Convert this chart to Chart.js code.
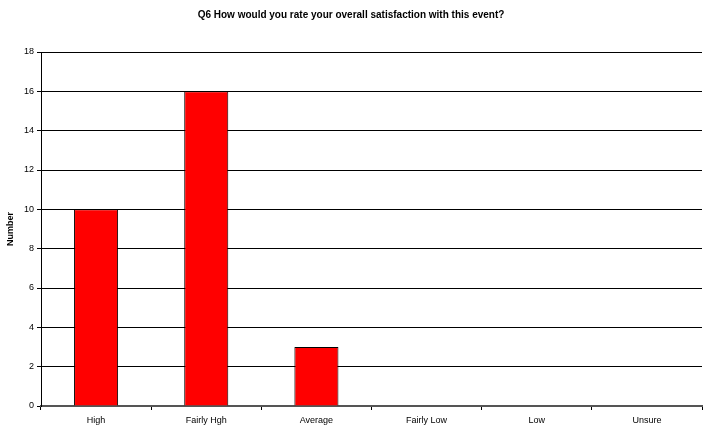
<!DOCTYPE html>
<html>
<head>
<meta charset="utf-8">
<script src="https://cdn.jsdelivr.net/npm/chart.js@4/dist/chart.umd.min.js"></script>
<style>
  html, body { margin: 0; padding: 0; background: #fff; }
  #wrap { width: 703px; height: 425px; }
</style>
</head>
<body>
<div id="wrap"><canvas id="chart"></canvas></div>
<script>
let categories = ["High", "Fairly Hgh", "Average", "Fairly Low", "Low", "Unsure"]
let counts = [10, 16, 3, 0, 0, 0]
let yTicks = [0, 2, 4, 6, 8, 10, 12, 14, 16, 18]

Chart.defaults.font.family = "'Liberation Sans', Arial, sans-serif";
Chart.defaults.color = "#000";

new Chart("chart", {
  type: "bar",
  data: {
    labels: categories,
    datasets: [{
      data: counts,
      backgroundColor: "#FF0000",
      borderColor: "#000",
      borderWidth: 1,
      barPercentage: 0.4,
      categoryPercentage: 1
    }]
  },
  options: {
    responsive: true,
    maintainAspectRatio: false,
    animation: false,
    layout: { padding: { left: 0, right: 1, top: 0, bottom: 0 } },
    plugins: {
      legend: { display: false },
      tooltip: { enabled: false },
      title: {
        display: true,
        text: "Q6 How would you rate your overall satisfaction with this event?",
        font: { size: 10, weight: "bold" },
        padding: { top: 9, bottom: 31 }
      }
    },
    scales: {
      x: {
        offset: true,
        grid: { display: true, drawOnChartArea: false, color: "#000", tickLength: 4, offset: true },
        border: { color: "#555", width: 2 },
        ticks: { font: { size: 9 }, padding: 5, maxRotation: 0, autoSkip: false },
        afterFit: s => { s.height = 19 }
      },
      y: {
        min: 0,
        max: 18,
        afterBuildTicks: s => { s.ticks = yTicks.map(v => ({ value: v })) },
        grid: { color: "#000", tickLength: 4 },
        border: { color: "#000", width: 1 },
        ticks: { font: { size: 9 }, padding: 3 },
        title: { display: true, text: "Number", font: { size: 9, weight: "bold" }, padding: { top: 5, bottom: 0 } },
        afterFit: s => { s.width = 41 }
      }
    }
  }
});
</script>
</body>
</html>
